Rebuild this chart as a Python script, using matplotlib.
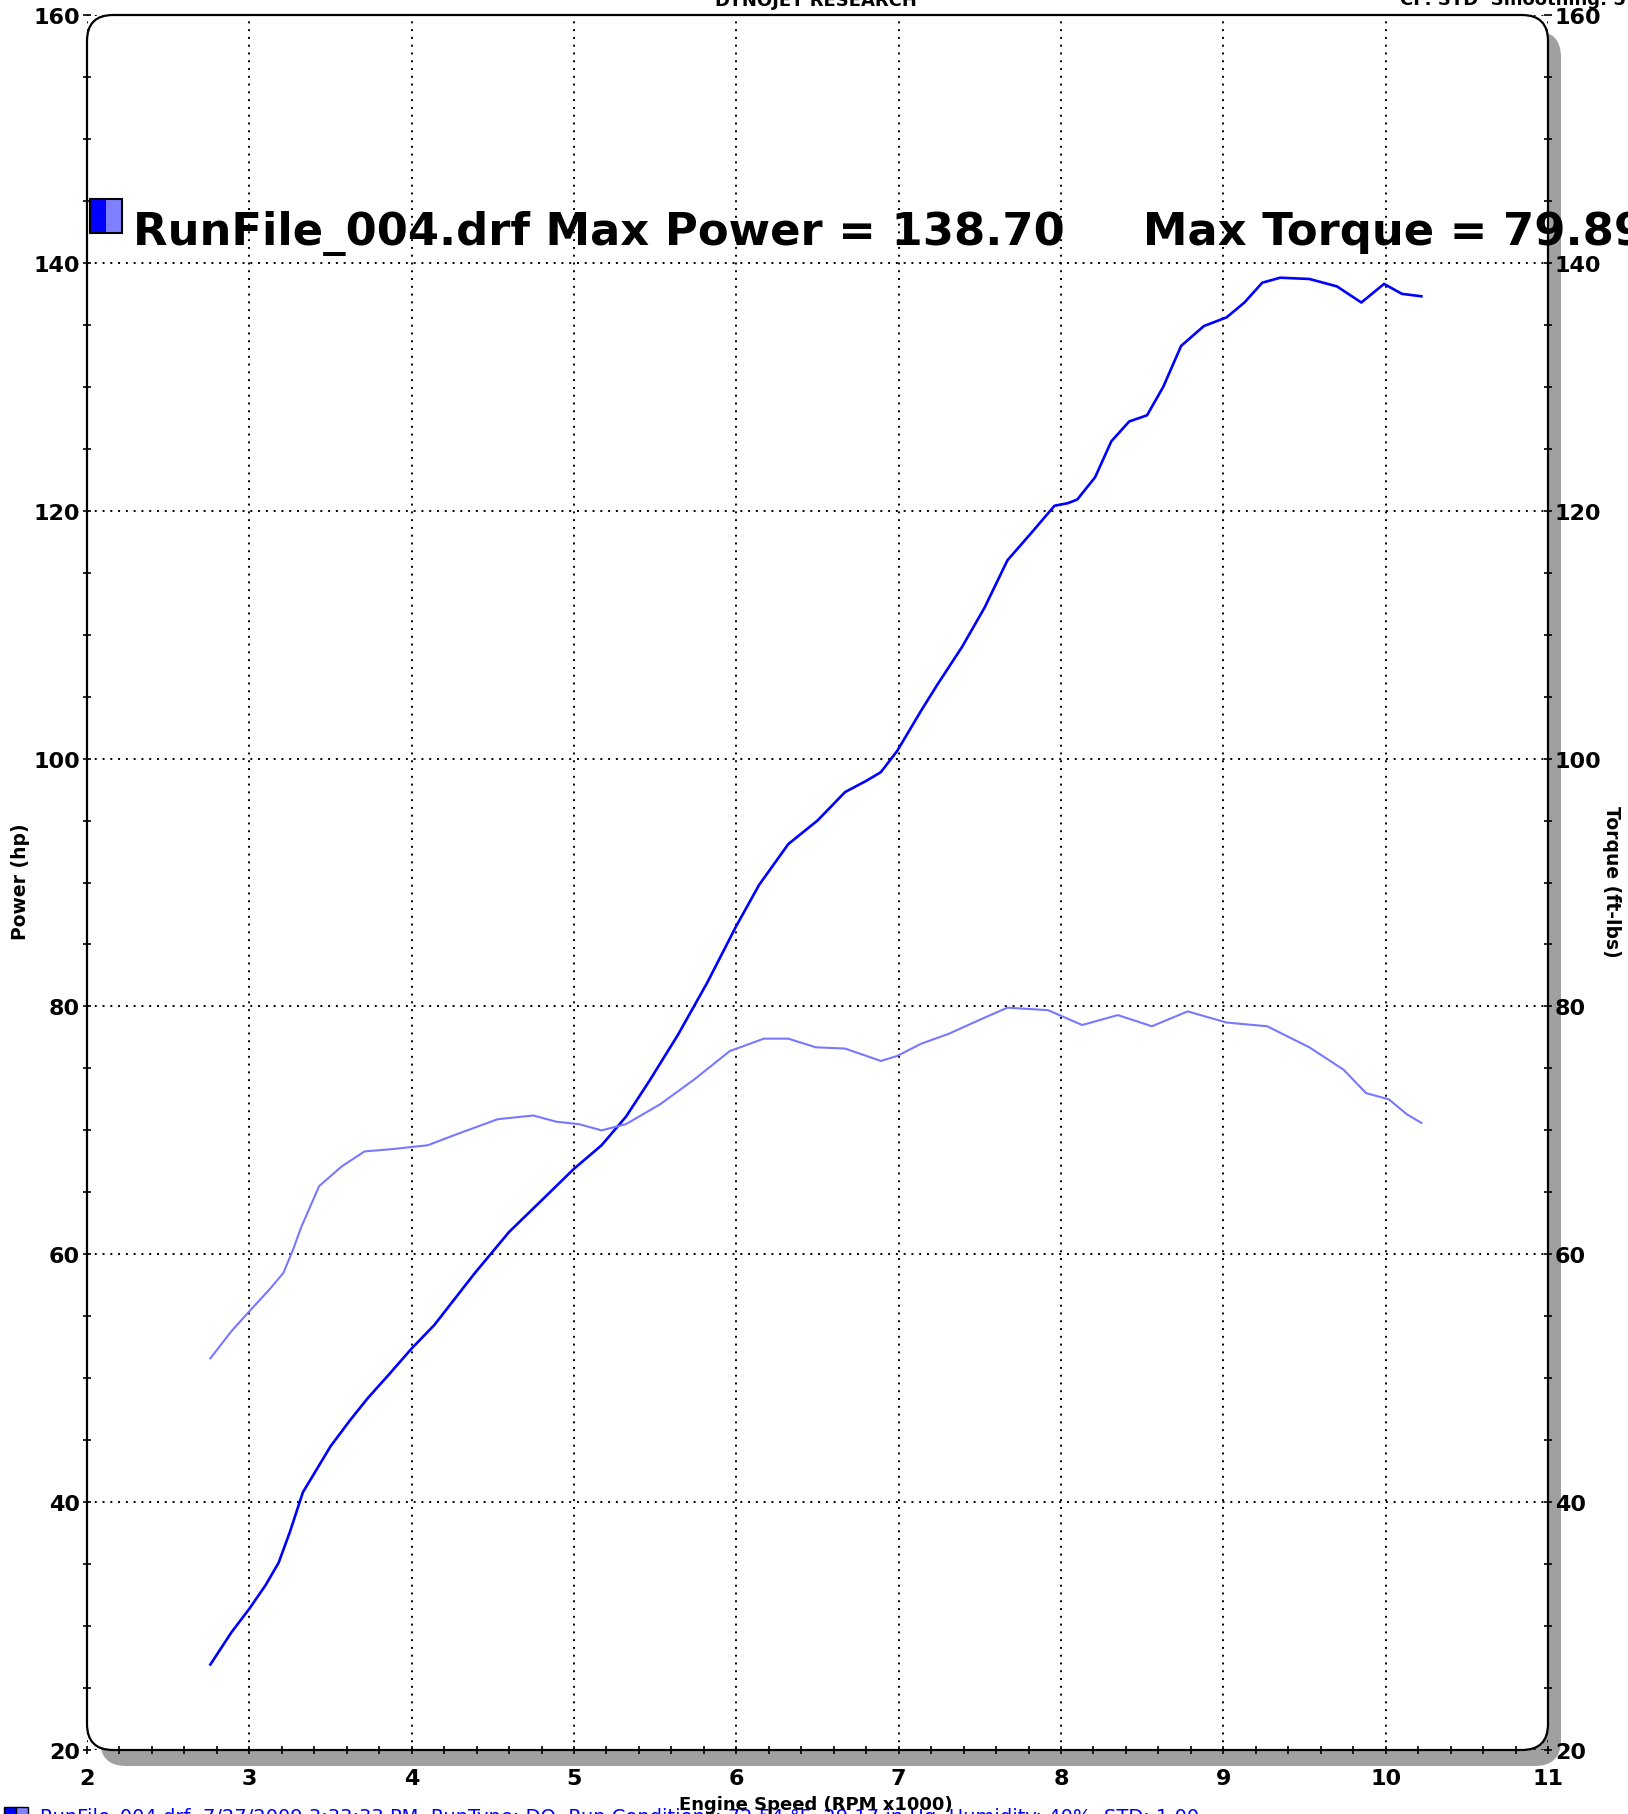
import matplotlib
matplotlib.use("Agg")
import matplotlib.pyplot as plt
from matplotlib.patches import FancyBboxPatch, Rectangle
import numpy as np

plt.rcParams['font.family'] = ['DejaVu Sans']
plt.rcParams['font.weight'] = 'bold'

# Data (rpm x1000)
power_rpm = [2.76, 2.89, 3.00, 3.10, 3.18, 3.25, 3.33, 3.39, 3.50, 3.62, 3.73, 3.86,
             4.00, 4.14, 4.39, 4.60, 4.82, 5.00, 5.17, 5.32, 5.46, 5.64, 5.82, 6.00,
             6.14, 6.32, 6.50, 6.67, 6.80, 6.89, 6.99, 7.14, 7.24, 7.39, 7.53, 7.67,
             7.81, 7.96, 8.04, 8.10, 8.21, 8.31, 8.42, 8.53, 8.63, 8.74, 8.88, 9.02,
             9.13, 9.24, 9.35, 9.53, 9.70, 9.85, 9.99, 10.10, 10.22]
power_hp = [26.9, 29.5, 31.4, 33.3, 35.1, 37.6, 40.8, 42.1, 44.5, 46.6, 48.4, 50.3,
            52.4, 54.3, 58.5, 61.8, 64.6, 66.9, 68.8, 71.1, 73.9, 77.7, 81.9, 86.5,
            89.8, 93.1, 95.0, 97.3, 98.2, 98.9, 100.6, 103.9, 106.0, 109.0, 112.2, 116.0,
            118.1, 120.4, 120.6, 120.9, 122.7, 125.6, 127.2, 127.7, 130.0, 133.3, 134.9, 135.6,
            136.8, 138.4, 138.8, 138.7, 138.1, 136.8, 138.3, 137.5, 137.3]

torque_rpm = [2.76, 2.89, 3.00, 3.12, 3.21, 3.27, 3.32, 3.43, 3.57, 3.71, 3.89, 4.10,
              4.28, 4.53, 4.75, 4.89, 5.03, 5.17, 5.32, 5.53, 5.74, 5.96, 6.17, 6.32,
              6.49, 6.67, 6.89, 6.99, 7.14, 7.31, 7.53, 7.67, 7.92, 8.13, 8.35, 8.56,
              8.78, 9.02, 9.27, 9.53, 9.74, 9.88, 10.02, 10.13, 10.22]
torque_ftlb = [51.6, 53.8, 55.4, 57.1, 58.5, 60.4, 62.2, 65.5, 67.1, 68.3, 68.5, 68.8,
               69.7, 70.9, 71.2, 70.7, 70.5, 70.0, 70.5, 72.1, 74.1, 76.4, 77.4, 77.4,
               76.7, 76.6, 75.6, 76.0, 77.0, 77.8, 79.1, 79.9, 79.7, 78.5, 79.3, 78.4,
               79.6, 78.7, 78.4, 76.7, 74.9, 73.0, 72.5, 71.3, 70.6]

x_ticks = [2, 3, 4, 5, 6, 7, 8, 9, 10, 11]
y_ticks = [20, 40, 60, 80, 100, 120, 140, 160]

W, H = 1628, 1815
fig = plt.figure(figsize=(W / 100, H / 100), dpi=100)

# pixel-coordinate background layer for the rounded frame and shadow
L, R, T, B = 87, 1548, 16, 1751
bg = fig.add_axes([0, 0, 1, 1], zorder=0)
bg.set_xlim(0, W)
bg.set_ylim(0, H)
bg.axis('off')
shadow = FancyBboxPatch((L + 13, H - B - 16), R - L, B - T,
                        boxstyle="round,pad=0,rounding_size=26",
                        facecolor='#a0a0a0', edgecolor='none')
frame = FancyBboxPatch((L, H - B), R - L, B - T,
                       boxstyle="round,pad=0,rounding_size=26",
                       facecolor='white', edgecolor='black', linewidth=1.6)
bg.add_patch(shadow)
bg.add_patch(frame)

ax = fig.add_axes([L / W, 1 - B / H, (R - L) / W, (B - T) / H], zorder=1)
ax.patch.set_visible(False)
for s in ax.spines.values():
    s.set_visible(False)
ax.set_xlim(2, 11)
ax.set_ylim(20, 160)
ax.set_xticks(x_ticks)
ax.set_xticks(np.arange(2, 11.01, 0.2), minor=True)
ax.set_yticks(y_ticks)
ax.set_yticks(np.arange(20, 160.1, 5), minor=True)
ax.grid(True, which='major', color='black', linestyle=(0, (1, 3)), linewidth=1.4)

ax.tick_params(axis='both', which='both', direction='inout', length=6, width=1.2,
               top=False, right=True, labelsize=16)
ax.tick_params(axis='x', which='both', pad=10)
ax.tick_params(axis='y', which='both', pad=2, labelright=True)
for t in ax.xaxis.get_major_ticks() + ax.yaxis.get_major_ticks():
    t.label1.set_fontweight('bold')
    t.label2.set_fontweight('bold')

ax.plot(power_rpm, power_hp, color='#0000ff', linewidth=1.9, zorder=3)
ax.plot(torque_rpm, torque_ftlb, color='#7878ff', linewidth=1.5, zorder=3)

# axis titles
fig.text(21 / W, 1 - 882 / H, "Power (hp)", rotation=90, ha='center', va='center',
         fontsize=13.5)
fig.text(1612 / W, 1 - 882 / H, "Torque (ft-lbs)", rotation=270, ha='center', va='center',
         fontsize=13.5)
fig.text(816 / W, 1 - 1810 / H, "Engine Speed (RPM x1000)", ha='center', va='baseline',
         fontsize=13, zorder=6)

# header (partly cut off at the top)
fig.text(816 / W, 1 - 6 / H, "DYNOJET RESEARCH", ha='center', va='baseline', fontsize=13)
fig.text(1626 / W, 1 - 5 / H, "CF: STD  Smoothing: 5", ha='right', va='baseline',
         fontsize=13)

# big run legend
bg.add_patch(Rectangle((90, H - 234), 16, 34, facecolor='#0000ff', edgecolor='none', zorder=4))
bg.add_patch(Rectangle((106, H - 234), 16, 34, facecolor='#8080ff', edgecolor='none', zorder=4))
bg.add_patch(Rectangle((90, H - 234), 32, 34, facecolor='none', edgecolor='black',
                       linewidth=1.5, zorder=4))
bg.text(133, H - 245, "RunFile_004.drf Max Power = 138.70     Max Torque = 79.89",
        ha='left', va='baseline', fontsize=32.3, zorder=5)

# footer run info (cut off at bottom)
bg.add_patch(Rectangle((4, H - 1830), 12, 22, facecolor='#0000ff', edgecolor='black',
                       linewidth=1, zorder=4, clip_on=False))
bg.add_patch(Rectangle((16, H - 1830), 12, 22, facecolor='#8080ff', edgecolor='black',
                       linewidth=1, zorder=4, clip_on=False))
bg.text(40, H - 1823, "RunFile_004.drf  7/27/2009 3:33:33 PM  RunType: DO  Run Conditions: "
        "72.54 \u00b0F  29.17 in Hg  Humidity: 40%  STD: 1.00",
        ha='left', va='baseline', fontsize=14, fontweight='normal', color='#0000ff',
        clip_on=False)

fig.savefig("out.png", dpi=100)
